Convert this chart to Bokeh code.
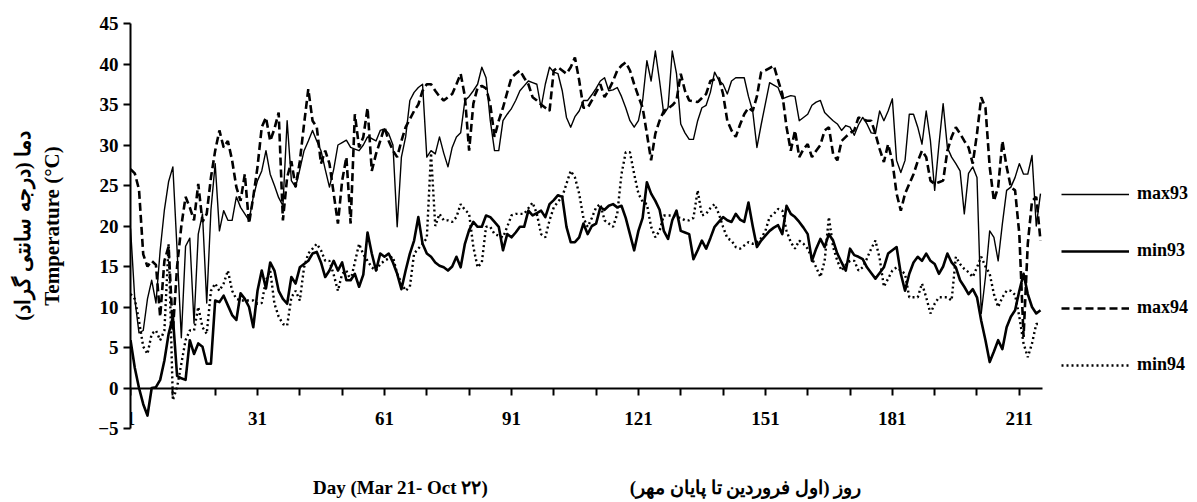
from bokeh.plotting import figure
from bokeh.layouts import column
from bokeh.models import ColumnDataSource, FixedTicker, Legend, LegendItem, Label, Range1d, LinearAxis
from bokeh.embed import file_html
from bokeh.resources import INLINE

days = list(range(1, 217))

max93 = [19.7, 11.0, 6.8, 7.1, 11.0, 13.3, 10.5, 17.0, 22.0, 25.5,
         27.3, 17.0, 6.2, 17.5, 18.5, 8.0, 19.0, 21.5, 10.5, 22.0,
         27.7, 19.4, 21.9, 20.7, 20.7, 23.6, 22.3, 21.5, 20.7, 23.6,
         25.6, 26.8, 29.3, 26.4, 25.0, 23.5, 22.5, 33.0, 25.6, 24.8,
         27.0, 29.3, 30.5, 31.8, 30.5, 29.3, 27.0, 24.8, 27.0, 30.0,
         30.3, 30.6, 29.7, 29.5, 29.3, 30.0, 31.0, 30.8, 30.5, 31.8,
         32.0, 31.4, 30.0, 19.9, 28.5, 31.0, 35.5, 36.5, 37.1, 37.5,
         28.5, 29.3, 28.9, 31.0, 29.0, 27.3, 29.7, 31.0, 31.5, 35.5,
         36.0, 36.7, 37.5, 39.6, 38.3, 33.0, 29.3, 29.3, 33.0, 33.8,
         34.5, 35.5, 36.7, 37.3, 37.9, 37.7, 37.5, 34.6, 37.5, 39.6,
         39.0, 38.8, 36.7, 33.4, 32.2, 33.5, 34.2, 35.5, 35.5, 36.2,
         37.0, 37.9, 38.3, 36.7, 36.8, 37.1, 36.0, 34.6, 33.0, 32.2,
         33.0, 35.5, 40.4, 37.9, 41.6, 37.9, 33.8, 34.6, 41.6, 38.8,
         32.6, 31.5, 30.7, 30.7, 33.0, 34.6, 34.9, 36.5, 39.0, 38.0,
         37.5, 36.3, 37.9, 38.3, 38.3, 38.3, 36.0, 34.2, 29.7, 32.5,
         35.1, 37.7, 37.4, 37.1, 35.7, 35.9, 36.1, 36.0, 33.0, 33.4,
         33.8, 34.9, 35.3, 35.5, 34.0, 33.5, 33.0, 32.6, 31.8, 32.4,
         32.2, 31.2, 32.5, 33.4, 32.6, 31.5, 31.4, 34.2, 33.0, 34.2,
         35.7, 28.1, 26.6, 28.1, 33.8, 33.8, 32.2, 30.1, 34.2, 30.5,
         24.4, 30.0, 35.1, 29.7, 28.5, 27.7, 26.8, 21.5, 26.5, 27.3,
         26.0, 9.2, 13.7, 19.4, 18.6, 15.7, 20.3, 24.4, 24.8, 26.0,
         27.7, 26.4, 26.4, 28.7, 20.0, 24.0]

min93 = [5.9, 2.5, 0.0, -2.0, -3.4, 0.0, 0.1, 1.0, 3.4, 6.7,
         8.8, 1.5, 1.2, 1.0, 5.9, 4.2, 5.5, 5.1, 3.0, 3.0,
         10.8, 10.6, 11.4, 10.2, 9.0, 8.4, 11.7, 11.0, 10.0, 7.5,
         12.0, 14.5, 12.3, 15.5, 14.5, 12.0, 11.0, 10.4, 13.7, 12.9,
         14.9, 15.3, 15.7, 16.6, 16.8, 15.5, 13.7, 14.5, 15.7, 14.5,
         15.5, 13.3, 13.3, 14.1, 12.5, 14.0, 19.2, 16.6, 14.5, 16.6,
         16.2, 16.6, 15.5, 14.1, 12.2, 14.5, 16.6, 18.2, 21.1, 17.8,
         16.6, 16.2, 15.5, 15.1, 14.9, 14.5, 15.0, 16.2, 14.9, 17.8,
         19.5, 20.5, 19.9, 19.9, 21.3, 21.1, 20.5, 19.9, 17.0, 19.0,
         18.6, 19.2, 19.9, 19.9, 21.9, 21.3, 21.6, 21.9, 21.1, 22.7,
         23.2, 23.8, 23.6, 19.9, 18.0, 18.0, 18.6, 20.3, 19.0, 20.0,
         20.3, 22.3, 22.0, 22.5, 22.7, 22.3, 22.5, 21.0, 19.0, 17.0,
         19.4, 21.0, 25.4, 24.0, 23.1, 22.0, 19.4, 18.4, 20.7, 21.9,
         19.4, 19.2, 19.0, 15.9, 17.0, 18.2, 17.2, 18.5, 19.9, 20.5,
         21.1, 20.7, 20.5, 21.5, 20.8, 20.5, 22.9, 20.0, 17.4, 18.2,
         18.8, 19.4, 19.8, 20.1, 19.0, 22.5, 21.5, 21.1, 20.5, 19.8,
         19.0, 15.7, 17.2, 18.4, 17.4, 19.0, 18.2, 16.6, 15.5, 14.5,
         17.2, 16.4, 16.2, 15.9, 14.9, 14.2, 13.5, 14.2, 14.9, 16.6,
         17.0, 17.4, 14.1, 12.0, 14.1, 15.5, 16.2, 15.7, 16.6, 15.7,
         15.3, 14.1, 15.0, 16.6, 15.5, 14.9, 13.3, 12.5, 11.6, 12.2,
         11.2, 8.3, 5.9, 3.2, 4.5, 5.9, 4.8, 7.5, 8.8, 9.6,
         12.0, 14.1, 11.6, 10.0, 9.2, 9.6]

max94 = [27.0, 26.5, 24.5, 16.5, 15.0, 15.7, 15.2, 8.8, 15.7, 17.5,
         7.0, 15.0, 20.0, 23.6, 22.3, 20.7, 25.2, 20.5, 21.5, 26.0,
         29.3, 31.8, 29.7, 30.5, 28.1, 24.8, 23.1, 26.4, 20.3, 23.6,
         27.3, 32.2, 33.4, 30.5, 32.0, 34.0, 20.7, 26.0, 28.0, 24.8,
         28.0, 32.6, 36.9, 33.0, 32.2, 27.7, 29.3, 27.7, 24.0, 20.3,
         25.6, 28.5, 20.3, 33.8, 29.7, 31.0, 34.6, 26.8, 28.9, 30.5,
         32.2, 30.5, 29.3, 28.5, 30.5, 32.2, 33.2, 34.2, 35.0, 36.7,
         37.5, 37.5, 36.7, 36.0, 35.5, 35.9, 36.3, 37.5, 38.8, 36.0,
         29.3, 35.1, 37.1, 37.3, 37.0, 35.0, 31.0, 33.0, 34.6, 36.5,
         38.3, 38.8, 39.2, 38.3, 37.5, 35.9, 35.5, 35.0, 34.6, 34.2,
         39.2, 39.6, 39.2, 38.8, 39.6, 40.8, 38.0, 34.6, 34.6, 35.5,
         36.5, 37.5, 35.9, 36.8, 37.9, 39.2, 39.8, 40.2, 39.2, 37.5,
         36.0, 34.6, 31.4, 28.1, 31.4, 33.0, 34.2, 34.5, 34.9, 35.5,
         38.8, 36.7, 35.5, 35.4, 35.3, 35.8, 36.3, 37.9, 38.1, 38.3,
         36.3, 33.0, 31.8, 31.0, 32.5, 33.8, 34.6, 34.2, 36.0, 39.0,
         39.2, 39.5, 39.8, 38.0, 36.3, 32.2, 29.3, 31.8, 28.5, 29.5,
         30.1, 28.5, 29.3, 30.0, 31.8, 32.2, 28.9, 28.1, 30.5, 31.0,
         31.5, 31.8, 33.4, 33.2, 33.0, 33.0, 31.4, 29.5, 27.9, 30.1,
         28.0, 24.0, 21.9, 24.0, 25.2, 26.4, 28.0, 29.3, 28.5, 25.6,
         25.2, 25.4, 25.6, 29.3, 31.0, 32.2, 31.4, 30.5, 29.7, 27.7,
         31.4, 35.9, 34.6, 27.3, 23.1, 24.8, 30.5, 27.3, 24.8, 24.4,
         19.0, 6.3, 17.8, 23.1, 23.6, 18.2]

min94 = [11.6, 11.0, 8.3, 5.1, 4.2, 6.7, 7.1, 5.9, 7.1, 17.8,
         -1.5, 0.1, 3.0, 5.9, 7.1, 7.1, 10.0, 7.5, 6.7, 12.0,
         12.9, 12.0, 12.9, 14.5, 12.0, 11.0, 10.8, 10.8, 10.8, 10.8,
         10.4, 10.5, 13.3, 14.5, 10.4, 8.8, 7.9, 7.7, 11.2, 12.0,
         10.8, 14.9, 16.6, 17.2, 17.8, 17.0, 15.7, 15.7, 14.0, 12.0,
         14.1, 14.5, 13.3, 15.5, 17.8, 16.5, 15.7, 14.9, 14.5, 15.3,
         15.7, 16.0, 16.2, 14.1, 13.0, 12.0, 12.5, 16.6, 17.2, 17.8,
         18.5, 29.0, 20.0, 21.5, 20.7, 20.7, 20.5, 21.1, 22.7, 22.0,
         21.5, 17.4, 14.9, 15.5, 19.9, 19.9, 19.0, 18.8, 18.6, 19.9,
         21.3, 21.5, 21.5, 21.5, 22.2, 22.9, 21.5, 19.0, 18.6, 20.7,
         22.3, 23.0, 23.6, 25.2, 26.8, 26.0, 24.0, 21.0, 19.9, 21.0,
         22.3, 22.7, 20.7, 20.3, 19.9, 21.5, 26.4, 29.1, 29.1, 26.4,
         24.0, 23.0, 22.7, 19.9, 18.6, 19.4, 21.3, 21.3, 21.3, 21.1,
         21.0, 20.7, 20.7, 21.0, 24.4, 21.3, 21.5, 22.2, 22.7, 21.5,
         19.9, 18.5, 18.2, 17.4, 17.2, 17.6, 18.0, 17.8, 18.0, 18.5,
         19.4, 21.1, 21.5, 22.1, 21.9, 19.4, 18.0, 17.2, 18.2, 17.8,
         17.2, 16.0, 14.9, 13.7, 15.7, 21.1, 17.4, 15.7, 14.5, 15.2,
         15.7, 15.7, 14.5, 14.9, 16.0, 17.2, 18.2, 16.0, 12.5, 13.5,
         14.5, 14.9, 14.5, 14.1, 11.2, 11.2, 11.2, 12.9, 11.2, 9.2,
         10.4, 11.2, 11.2, 11.2, 10.8, 16.2, 15.3, 14.7, 14.3, 13.7,
         14.9, 16.2, 15.0, 14.1, 11.6, 10.0, 11.2, 12.0, 12.0, 11.5,
         8.8, 5.5, 3.8, 5.5, 7.9, 7.9]

series_names = ["max93", "min93", "max94", "min94"]
x_label_ticks = [1, 31, 61, 91, 121, 151, 181, 211]
x_tick_marks = [1, 11, 21, 31, 41, 51, 61, 71, 81, 91, 101, 111, 121, 131, 141,
                151, 161, 171, 181, 191, 201, 211]
y_ticks = [-5, 0, 5, 10, 15, 20, 25, 30, 35, 40, 45]

y_title = "\u200fدما (درجه سانتی گراد)\u200f\nTemperature (°C)"
x_title_en = "Day (Mar 21- Oct ۲۲)"
x_title_fa = "\u200fروز (اول فروردین تا پایان مهر)\u200f"

FONT = "Liberation Serif"

src = ColumnDataSource(data=dict(day=days, max93=max93, min93=min93, max94=max94, min94=min94))

# main chart: frame = data area, extended to the right to hold the legend
p = figure(width=1197, height=468, output_backend="svg", toolbar_location=None,
           x_range=Range1d(0.99, 253.1), y_range=Range1d(-5, 45),
           x_axis_location=None,
           min_border_left=130, min_border_right=0, min_border_top=23, min_border_bottom=40)
p.outline_line_color = None
p.xgrid.visible = False
p.ygrid.visible = False
p.background_fill_color = "white"
p.border_fill_color = "white"

r1 = p.line("day", "max93", source=src, line_color="black", line_width=1.4, line_join="round")
r2 = p.line("day", "min93", source=src, line_color="black", line_width=2.6, line_join="round")
r3 = p.line("day", "max94", source=src, line_color="black", line_width=2.6, line_dash="8 4")
r4 = p.line("day", "min94", source=src, line_color="black", line_width=2.4, line_dash="2 3")

# x axis line + tick marks at y = 0
xa = LinearAxis(fixed_location=0, bounds=(1, 216.5),
                ticker=FixedTicker(ticks=[], minor_ticks=x_tick_marks))
xa.axis_line_width = 2
xa.axis_line_color = "black"
xa.minor_tick_in = 0
xa.minor_tick_out = 7
xa.minor_tick_line_width = 2
xa.minor_tick_line_color = "black"
xa.major_label_standoff = 0
p.add_layout(xa, "below")

# x tick labels
xl = LinearAxis(fixed_location=-2.2, bounds=(0.5, 216.5),
                ticker=FixedTicker(ticks=x_label_ticks, minor_ticks=[]))
xl.axis_line_color = None
xl.major_tick_line_color = None
xl.minor_tick_line_color = None
xl.major_label_standoff = 0
xl.major_label_text_font = FONT
xl.major_label_text_font_style = "bold"
xl.major_label_text_font_size = "19px"
xl.major_label_text_color = "black"
p.add_layout(xl, "below")

ya = p.yaxis[0]
ya.ticker = FixedTicker(ticks=y_ticks)
ya.axis_line_width = 2
ya.axis_line_color = "black"
ya.major_tick_in = 0
ya.major_tick_out = 7
ya.major_tick_line_width = 2
ya.minor_tick_line_color = None
ya.major_label_standoff = 5
ya.major_label_text_font = FONT
ya.major_label_text_font_style = "bold"
ya.major_label_text_font_size = "19px"
ya.major_label_text_color = "black"
ya.axis_label = y_title
ya.axis_label_standoff = 31
ya.axis_label_text_font = FONT
ya.axis_label_text_font_style = "bold"
ya.axis_label_text_font_size = "21px"
ya.axis_label_text_color = "black"

legend = Legend(items=[LegendItem(label=n, renderers=[r]) for n, r in zip(series_names, [r1, r2, r3, r4])],
                location=(931, 53), orientation="vertical", glyph_width=68, glyph_height=20,
                label_height=20, spacing=36, padding=5, margin=0, label_standoff=8,
                border_line_color=None, background_fill_alpha=0,
                label_text_font=FONT, label_text_font_style="bold", label_text_font_size="18px",
                label_text_color="black")
p.add_layout(legend, "center")

# strip below the chart with the two x-axis titles (frame aligned with the chart's frame)
p2 = figure(width=1197, height=34, output_backend="svg", toolbar_location=None,
            x_range=Range1d(0, 1), y_range=Range1d(0, 1),
            x_axis_location=None, y_axis_location=None, min_border=0)
p2.outline_line_color = None
p2.xgrid.visible = False
p2.ygrid.visible = False
p2.background_fill_color = "white"
p2.border_fill_color = "white"
for txt, xs in ((x_title_en, 270), (x_title_fa, 615)):
    p2.add_layout(Label(x=xs, y=15, x_units="screen", y_units="screen", text=txt,
                        text_align="center", text_baseline="middle", text_font=FONT,
                        text_font_style="bold", text_font_size="19px", text_color="black"))

layout = column(p, p2, spacing=0)
open("out.html", "w").write(file_html(layout, INLINE))
